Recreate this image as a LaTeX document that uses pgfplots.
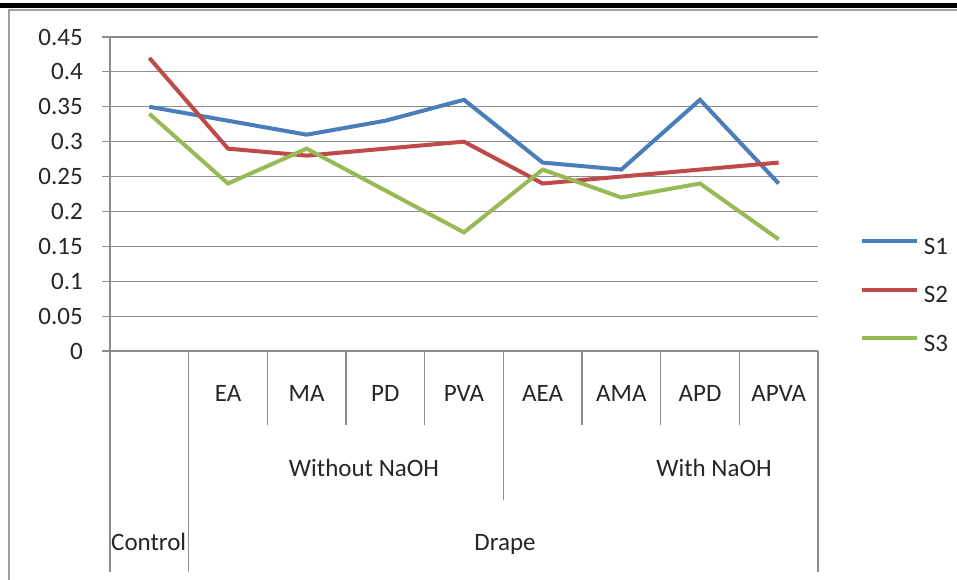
\documentclass[border=0pt]{standalone}
\usepackage{pgfplots}
\pgfplotsset{compat=1.18}
\usepackage{fontspec}
\setmainfont{Carlito}
\definecolor{sone}{HTML}{4A7EBB}
\definecolor{stwo}{HTML}{BE4B48}
\definecolor{sthree}{HTML}{98B954}
\definecolor{gridc}{HTML}{8C8C8C}
\definecolor{framec}{HTML}{A0A0A0}
\definecolor{txt}{HTML}{262626}

\pgfplotstableread{
x s1 s2 s3
1 0.35 0.42 0.34
2 0.33 0.29 0.24
3 0.31 0.28 0.29
4 0.33 0.29 0.23
5 0.36 0.30 0.17
6 0.27 0.24 0.26
7 0.26 0.25 0.22
8 0.36 0.26 0.24
9 0.24 0.27 0.16
}\datatable

\begin{document}
\fontsize{25bp}{30bp}\selectfont
\color{txt}
\begin{tikzpicture}
\path[use as bounding box] (0bp,0bp) rectangle (957bp,580bp);
\fill[white] (0bp,0bp) rectangle (957bp,580bp);
\fill[black] (0bp,572bp) rectangle (957bp,577bp);
\draw[framec, line width=1.5bp] (9bp,0bp) -- (9bp,570bp) -- (957bp,570bp);
\begin{axis}[
  at={(110bp,229bp)}, anchor=south west,
  scale only axis, width=708bp, height=314bp,
  xmin=0.5, xmax=9.5, ymin=0, ymax=0.45,
  clip=false,
  axis x line=bottom, axis y line=left,
  axis line style={draw=gridc, line width=1.2bp, -},
  ytick={0,0.05,0.1,0.15,0.2,0.25,0.3,0.35,0.4,0.45},
  yticklabels={0,0.05,0.1,0.15,0.2,0.25,0.3,0.35,0.4,0.45},
  ymajorgrids, grid style={draw=gridc, line width=1.2bp},
  tick align=outside, major tick length=8bp,
  ytick style={draw=gridc, line width=1.2bp},
  xtick={1,...,9},
  xticklabels={,EA,MA,PD,PVA,AEA,AMA,APD,APVA},
  xtick style={draw=none},
  xticklabel style={anchor=base, yshift=-42bp, text=txt, font=\fontsize{25bp}{30bp}\selectfont},
  yticklabel style={anchor=east, inner sep=0pt, xshift=-19bp, text=txt, font=\fontsize{25bp}{30bp}\selectfont},
  legend style={at={(axis description cs:1.0593,0.363)}, anchor=north west,
    draw=none, fill=none, inner sep=0pt, row sep=26.5bp, column sep=5bp,
    font=\fontsize{25bp}{30bp}\selectfont, text=txt,
    nodes={inner sep=0pt, text height=17bp, text depth=5bp}},
  legend cell align=left,
  legend image code/.code={\draw[#1, line width=3.8bp] (0bp,7bp) -- (55bp,7bp);},
]
\addplot[sone, line width=4bp] table[x=x, y=s1] {\datatable};
\addplot[stwo, line width=4bp] table[x=x, y=s2] {\datatable};
\addplot[sthree, line width=4bp] table[x=x, y=s3] {\datatable};
\legend{S1,S2,S3}
\foreach \xx in {2.5,3.5,4.5,6.5,7.5,8.5} {
  \edef\tmp{\noexpand\draw[gridc, line width=1.2bp] (axis cs:\xx,0) -- ++(0bp,-74bp);}\tmp
}
\draw[gridc, line width=1.2bp] (axis cs:5.5,0) -- ++(0bp,-149bp);
\draw[gridc, line width=1.2bp] (axis cs:0.5,0) -- ++(0bp,-221bp);
\draw[gridc, line width=1.2bp] (axis cs:1.5,0) -- ++(0bp,-221bp);
\draw[gridc, line width=1.2bp] (axis cs:9.5,0) -- ++(0bp,-221bp);
\end{axis}
\node[anchor=base, inner sep=0pt, text=txt] at (364bp,103bp) {Without NaOH};
\node[anchor=base, inner sep=0pt, text=txt] at (714bp,103bp) {With NaOH};
\node[anchor=base west, inner sep=0pt, text=txt] at (111bp,30bp) {Control};
\node[anchor=base, inner sep=0pt, text=txt] at (505bp,30bp) {Drape};
\end{tikzpicture}
\end{document}
